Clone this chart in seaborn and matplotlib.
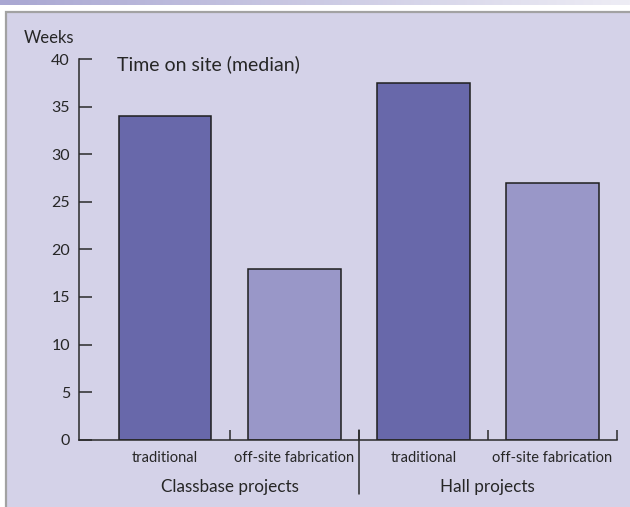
import numpy as np
import pandas as pd
import matplotlib
matplotlib.use("Agg")
import matplotlib.pyplot as plt
import matplotlib.transforms as mtransforms
from matplotlib.patches import Rectangle
import seaborn as sns

# Median time on site, in weeks
groups = ["Classbase projects", "Hall projects"]
methods = ["traditional", "off-site fabrication"]
classbase_weeks = [34, 18]
hall_weeks = [37.5, 27]
y_ticks = [0, 5, 10, 15, 20, 25, 30, 35, 40]

method_colors = {"traditional": "#6868aa", "off-site fabrication": "#9997c8"}
bg_color = "#d4d2e8"
text_color = "#262626"
line_color = "#2a2a2a"

rows = []
for group, values in zip(groups, [classbase_weeks, hall_weeks]):
    for method, v in zip(methods, values):
        rows.append({"bar": f"{group}|{method}", "group": group,
                     "method": method, "weeks": v})
df = pd.DataFrame(rows)

sns.set_theme(style="white")
plt.rcParams["font.family"] = ["Lato", "DejaVu Sans"]

W, H = 630, 507
fig = plt.figure(figsize=(W / 100, H / 100), dpi=100, facecolor="white")

# panel background with grey border
fig.patches.append(Rectangle((6 / W, -0.05), 1.1, 1 - 12 / H + 0.05,
                             transform=fig.transFigure, facecolor=bg_color,
                             edgecolor="#a2a2a2", linewidth=1.6, zorder=-5))

# gradient strip along the top edge
strip = fig.add_axes([0, 1 - 5 / H, 1, 5 / H])
grad = np.linspace(0, 1, 256)[None, :]
c0 = np.array([0xa9, 0xa7, 0xd2]) / 255
c1 = np.array([0xee, 0xed, 0xf5]) / 255
img = c0[None, None, :] * (1 - grad[..., None]) + c1[None, None, :] * grad[..., None]
strip.imshow(img, aspect="auto", extent=[0, 1, 0, 1])
strip.set_axis_off()

# plotting area: y axis at x=79px, value 0 at y=439.5px, 40 at y=59.5px
ax = fig.add_axes([79 / W, (H - 439.5) / H, (617 - 79) / W, 380 / H])
ax.patch.set_visible(False)

sns.barplot(data=df, x="bar", y="weeks", hue="method", palette=method_colors,
            saturation=1, dodge=False, width=0.72, edgecolor="#1e1e1e",
            linewidth=1.1, legend=False, ax=ax)

ax.set_xlim(-0.666, 3.5)
ax.set_ylim(0, 40)
ax.set_xlabel("")
ax.set_ylabel("")

for side in ["top", "right"]:
    ax.spines[side].set_visible(False)
for side in ["left", "bottom"]:
    ax.spines[side].set_color(line_color)
    ax.spines[side].set_linewidth(1.1)

ax.set_yticks(y_ticks)
ax.set_yticklabels([str(t) for t in y_ticks])
ax.tick_params(axis="y", direction="in", length=9.5, width=1.1,
               color=line_color, pad=6.5, labelsize=11.5,
               labelcolor=text_color, left=True)

ax.set_xticks(range(len(df)))
ax.set_xticklabels(df["method"].tolist())
ax.tick_params(axis="x", which="major", length=0, pad=8, labelsize=10.5,
               labelcolor=text_color)
ax.set_xticks([0.5, 1.5, 2.5, 3.5], minor=True)
ax.tick_params(axis="x", which="minor", direction="in", length=7.5,
               width=1.1, color=line_color, bottom=True)

# group labels and divider
blend = mtransforms.blended_transform_factory(ax.transData, fig.transFigure)
for i, group in enumerate(groups):
    ax.text(2 * i + 0.5, 1 - 487 / H, group, transform=blend, ha="center",
            va="center", fontsize=12.3, color=text_color)
ax.plot([1.5, 1.5], [1 - 430 / H, 1 - 494 / H], transform=blend,
        color=line_color, linewidth=1.1, clip_on=False)

fig.text(24 / W, 1 - 38 / H, "Weeks", ha="left", va="center",
         fontsize=12, color=text_color)
fig.text(117 / W, 1 - 64 / H, "Time on site (median)", ha="left",
         va="center", fontsize=14, color=text_color)

fig.savefig("out.png", dpi=100, facecolor="white")
